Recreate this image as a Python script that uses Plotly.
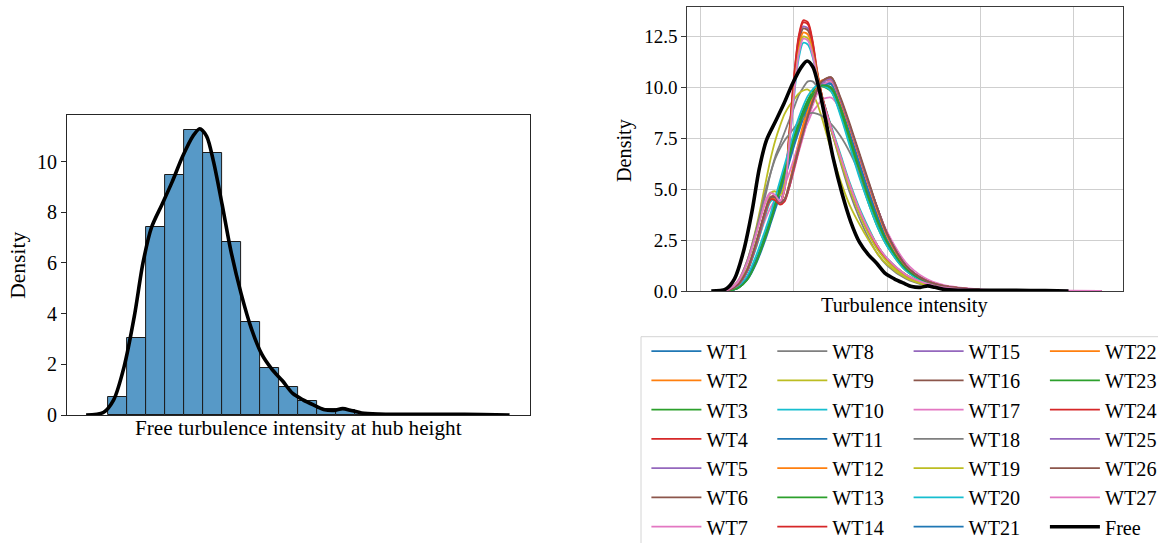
import plotly.graph_objects as go

FONT = "Liberation Serif"

# ---------------- data: left panel (histogram + KDE of free TI) ----------------
bin_edges = [0.0317, 0.0488, 0.0659, 0.0831, 0.1002, 0.1173, 0.1344, 0.1515, 0.1687,
             0.1858, 0.2029, 0.2200, 0.2371, 0.2543, 0.2714, 0.2885, 0.3056, 0.3227,
             0.3399, 0.3570, 0.3741]
bin_density = [0.73, 3.03, 7.43, 9.46, 11.25, 10.36, 6.82, 3.67, 1.87, 1.09,
               0.55, 0.22, 0.21, 0.06, 0.04, 0.03, 0.02, 0.02, 0.03, 0.02]

free_ti = [0.0114, 0.0270, 0.0363, 0.0457, 0.0550, 0.0628, 0.0705, 0.0799, 0.0892,
           0.0986, 0.1079, 0.1141, 0.1204, 0.1266, 0.1344, 0.1422, 0.1515, 0.1609,
           0.1702, 0.1795, 0.1889, 0.1982, 0.2075, 0.2169, 0.2262, 0.2355, 0.2433,
           0.2511, 0.2605, 0.2760, 0.3072, 0.3383, 0.3695, 0.3943]
free_density = [0.0, 0.1, 0.6, 1.9, 3.9, 6.0, 7.4, 8.3, 9.2, 10.2, 11.0, 11.3, 11.0,
                10.0, 8.3, 6.5, 4.8, 3.4, 2.4, 1.8, 1.35, 0.85, 0.6, 0.4, 0.22, 0.18,
                0.25, 0.18, 0.08, 0.04, 0.03, 0.03, 0.02, 0.0]

# ---------------- data: right panel (KDE per turbine) ----------------
ti_grid = [0.02, 0.03, 0.04, 0.05, 0.06, 0.07,
           0.075, 0.08, 0.085, 0.09, 0.095,
           0.10, 0.105, 0.11, 0.115, 0.12, 0.125, 0.13,
           0.14, 0.15, 0.16, 0.17, 0.18, 0.19, 0.20,
           0.22, 0.24, 0.26, 0.30, 0.36, 0.43]

wt1 = [0, 0.02, 0.15, 0.6, 1.5, 2.7, 3.4, 4.1, 4.8, 5.6, 6.4,
       7.2, 7.9, 8.5, 9.0, 9.5, 9.85, 10.1, 10.15, 9.2, 7.8, 6.3, 4.9, 3.6, 2.5,
       1.15, 0.5, 0.22, 0.05, 0.01, 0]
wt2 = [0, 0.05, 0.3, 1.0, 2.4, 4.0, 4.6, 4.6, 4.35, 4.5, 5.3,
       6.3, 7.3, 8.2, 9.0, 9.7, 10.1, 10.35, 10.3, 9.0, 7.6, 6.2, 4.9, 3.7, 2.6,
       1.15, 0.5, 0.22, 0.05, 0.01, 0]
wt3 = [0, 0.02, 0.16, 0.65, 1.6, 2.9, 3.6, 4.4, 5.2, 6.0, 6.8,
       7.6, 8.3, 8.9, 9.4, 9.8, 10.0, 10.05, 9.8, 8.7, 7.2, 5.7, 4.3, 3.1, 2.2,
       1.0, 0.45, 0.2, 0.05, 0.01, 0]
wt4 = [0, 0.05, 0.3, 1.0, 2.3, 3.9, 4.6, 4.7, 4.35, 5.2, 7.8,
       10.5, 12.5, 13.3, 13.2, 12.3, 10.8, 9.6, 8.0, 6.5, 5.1, 3.9, 2.9, 2.1, 1.5,
       0.75, 0.35, 0.15, 0.03, 0.01, 0]
wt5 = [0, 0.06, 0.34, 1.1, 2.4, 4.0, 4.6, 4.6, 4.35, 5.2, 7.6,
       10.2, 12.2, 13.0, 12.9, 12.1, 10.7, 9.5, 7.9, 6.5, 5.1, 3.9, 2.9, 2.1, 1.5,
       0.75, 0.35, 0.15, 0.03, 0.01, 0]
wt6 = [0, 0.05, 0.3, 1.0, 2.3, 3.9, 4.5, 4.55, 4.3, 5.1, 7.5,
       10.1, 12.1, 12.9, 12.8, 12.0, 10.7, 9.6, 8.0, 6.6, 5.2, 4.0, 3.0, 2.2, 1.55,
       0.8, 0.38, 0.16, 0.03, 0.01, 0]
wt7 = [0, 0.05, 0.35, 1.1, 2.3, 3.6, 4.1, 4.5, 4.8, 5.2, 5.8,
       6.5, 7.2, 7.8, 8.3, 8.8, 9.1, 9.4, 9.5, 8.9, 7.8, 6.5, 5.2, 4.0, 2.9,
       1.4, 0.65, 0.3, 0.08, 0.02, 0]
wt8 = [0, 0.08, 0.45, 1.4, 2.9, 4.8, 5.8, 6.6, 7.2, 7.8, 8.4,
       9.0, 9.6, 10.0, 10.3, 10.3, 10.0, 9.4, 7.9, 6.3, 4.8, 3.6, 2.6, 1.8, 1.25,
       0.6, 0.28, 0.12, 0.03, 0.01, 0]
wt9 = [0, 0.08, 0.5, 1.5, 3.2, 5.4, 6.5, 7.4, 8.1, 8.7, 9.1,
       9.4, 9.7, 9.85, 9.9, 9.7, 9.2, 8.5, 6.9, 5.4, 4.2, 3.3, 2.5, 1.8, 1.3,
       0.65, 0.3, 0.13, 0.03, 0.01, 0]
wt10 = [0, 0.04, 0.28, 0.95, 2.2, 3.8, 4.4, 4.5, 4.35, 5.0, 7.1,
        9.5, 11.4, 12.2, 12.1, 11.5, 10.5, 9.6, 8.1, 6.7, 5.3, 4.1, 3.1, 2.2, 1.6,
        0.8, 0.38, 0.16, 0.03, 0.01, 0]
wt11 = [0, 0.02, 0.14, 0.55, 1.4, 2.6, 3.3, 4.0, 4.7, 5.5, 6.3,
        7.1, 7.8, 8.5, 9.1, 9.6, 10.0, 10.2, 10.2, 9.2, 7.8, 6.3, 4.9, 3.6, 2.5,
        1.15, 0.5, 0.22, 0.05, 0.01, 0]
wt12 = [0, 0.05, 0.3, 1.0, 2.3, 3.9, 4.5, 4.5, 4.3, 5.0, 7.4,
        9.9, 11.9, 12.7, 12.6, 11.9, 10.7, 9.6, 8.0, 6.6, 5.2, 4.0, 3.0, 2.2, 1.55,
        0.8, 0.38, 0.16, 0.03, 0.01, 0]
wt13 = [0, 0.02, 0.15, 0.6, 1.5, 2.8, 3.5, 4.3, 5.1, 5.9, 6.7,
        7.5, 8.2, 8.8, 9.3, 9.7, 10.0, 10.1, 9.9, 8.9, 7.4, 5.9, 4.5, 3.3, 2.3,
        1.05, 0.47, 0.2, 0.05, 0.01, 0]
wt14 = [0, 0.05, 0.32, 1.05, 2.35, 3.95, 4.55, 4.6, 4.3, 5.1, 7.7,
        10.4, 12.4, 13.2, 13.1, 12.2, 10.7, 9.6, 8.0, 6.5, 5.1, 3.9, 2.9, 2.1, 1.5,
        0.75, 0.35, 0.15, 0.03, 0.01, 0]
wt15 = [0, 0.05, 0.3, 1.0, 2.35, 3.95, 4.55, 4.55, 4.3, 4.45, 5.1,
        6.0, 6.9, 7.7, 8.5, 9.2, 9.8, 10.2, 10.45, 9.4, 8.1, 6.7, 5.3, 4.0, 2.8,
        1.25, 0.55, 0.25, 0.06, 0.01, 0]
wt16 = [0, 0.05, 0.3, 1.0, 2.4, 4.0, 4.6, 4.6, 4.35, 4.5, 5.2,
        6.1, 7.0, 7.8, 8.6, 9.3, 9.9, 10.3, 10.5, 9.4, 8.1, 6.7, 5.3, 4.0, 2.8,
        1.25, 0.55, 0.25, 0.06, 0.01, 0]
wt17 = [0, 0.08, 0.5, 1.5, 3.0, 4.5, 4.85, 4.7, 4.4, 4.5, 5.1,
        5.9, 6.8, 7.6, 8.4, 9.1, 9.7, 10.1, 10.3, 9.3, 8.0, 6.6, 5.2, 3.9, 2.7,
        1.2, 0.55, 0.25, 0.06, 0.01, 0]
wt18 = [0, 0.08, 0.45, 1.5, 3.1, 5.0, 5.8, 6.5, 7.0, 7.4, 7.7,
        8.0, 8.3, 8.5, 8.7, 8.75, 8.7, 8.6, 8.2, 7.6, 6.8, 5.8, 4.6, 3.4, 2.4,
        1.1, 0.5, 0.2, 0.04, 0.01, 0]
wt19 = [0, 0.06, 0.35, 1.1, 2.5, 4.1, 4.8, 4.9, 4.7, 5.3, 7.4,
        9.8, 11.7, 12.5, 12.4, 11.7, 10.6, 9.5, 7.9, 6.4, 5.0, 3.8, 2.8, 2.0, 1.45,
        0.7, 0.33, 0.14, 0.03, 0.01, 0]
wt20 = [0, 0.03, 0.2, 0.75, 1.8, 3.1, 3.8, 4.6, 5.4, 6.2, 7.0,
        7.8, 8.5, 9.1, 9.6, 9.9, 10.1, 10.1, 9.8, 8.6, 7.1, 5.6, 4.3, 3.1, 2.2,
        1.0, 0.45, 0.2, 0.05, 0.01, 0]
wt21 = [0, 0.02, 0.15, 0.6, 1.5, 2.7, 3.4, 4.2, 4.9, 5.7, 6.5,
        7.3, 8.0, 8.7, 9.2, 9.6, 9.9, 10.1, 10.0, 9.0, 7.6, 6.1, 4.7, 3.5, 2.4,
        1.1, 0.5, 0.22, 0.05, 0.01, 0]
wt22 = [0, 0.05, 0.3, 1.0, 2.4, 4.0, 4.55, 4.5, 4.3, 4.5, 5.2,
        6.2, 7.1, 8.0, 8.8, 9.5, 10.0, 10.3, 10.4, 9.3, 8.0, 6.6, 5.2, 3.9, 2.7,
        1.2, 0.55, 0.25, 0.06, 0.01, 0]
wt23 = [0, 0.02, 0.14, 0.55, 1.45, 2.7, 3.4, 4.2, 5.0, 5.8, 6.6,
        7.4, 8.1, 8.7, 9.2, 9.6, 9.9, 10.1, 10.0, 9.0, 7.5, 6.0, 4.6, 3.4, 2.4,
        1.1, 0.5, 0.22, 0.05, 0.01, 0]
wt24 = [0, 0.05, 0.3, 1.0, 2.4, 4.0, 4.5, 4.45, 4.25, 4.4, 5.1,
        6.0, 6.9, 7.8, 8.6, 9.3, 9.9, 10.3, 10.45, 9.4, 8.1, 6.7, 5.3, 4.0, 2.8,
        1.25, 0.55, 0.25, 0.06, 0.01, 0]
wt25 = [0, 0.05, 0.3, 1.0, 2.4, 4.0, 4.6, 4.6, 4.35, 4.5, 5.2,
        6.1, 7.0, 7.8, 8.6, 9.3, 9.9, 10.25, 10.4, 9.4, 8.1, 6.7, 5.3, 4.0, 2.8,
        1.25, 0.55, 0.25, 0.06, 0.01, 0]
wt26 = [0, 0.05, 0.32, 1.05, 2.45, 4.05, 4.6, 4.6, 4.35, 4.5, 5.2,
        6.1, 7.0, 7.8, 8.6, 9.3, 9.9, 10.3, 10.5, 9.5, 8.2, 6.8, 5.4, 4.0, 2.8,
        1.25, 0.55, 0.25, 0.06, 0.01, 0]
wt27 = [0, 0.08, 0.45, 1.4, 2.9, 4.4, 4.8, 4.7, 4.4, 5.0, 7.2,
        9.6, 11.6, 12.4, 12.3, 11.6, 10.5, 9.5, 8.0, 6.6, 5.2, 4.0, 3.0, 2.2, 1.6,
        0.8, 0.4, 0.18, 0.05, 0.02, 0]

wt_names = ["WT%d" % i for i in range(1, 28)]
wt_series = [wt1, wt2, wt3, wt4, wt5, wt6, wt7, wt8, wt9, wt10, wt11, wt12, wt13, wt14,
             wt15, wt16, wt17, wt18, wt19, wt20, wt21, wt22, wt23, wt24, wt25, wt26, wt27]

left_yticks = [0, 2, 4, 6, 8, 10]
right_yticks = [0, 2.5, 5, 7.5, 10, 12.5]
right_yticklabels = ["0.0", "2.5", "5.0", "7.5", "10.0", "12.5"]

# ---------------- styles ----------------
tab10 = ["#1f77b4", "#ff7f0e", "#2ca02c", "#d62728", "#9467bd",
         "#8c564b", "#e377c2", "#7f7f7f", "#bcbd22", "#17becf"]
W, H = 1158, 543


def px_x(p):
    return p / W


def px_y(p):
    return 1 - p / H


fig = go.Figure()

# left: histogram bars
centers = [(a + b) / 2 for a, b in zip(bin_edges[:-1], bin_edges[1:])]
widths = [b - a for a, b in zip(bin_edges[:-1], bin_edges[1:])]
fig.add_trace(go.Bar(x=centers, y=bin_density, width=widths,
                     marker=dict(color="#5799c7", line=dict(color="#1a1a1a", width=1)),
                     xaxis="x", yaxis="y", showlegend=False, hoverinfo="skip"))
fig.add_trace(go.Scatter(x=free_ti, y=free_density, mode="lines",
                         line=dict(color="black", width=3.6, shape="spline", smoothing=0.8),
                         xaxis="x", yaxis="y", showlegend=False))

# right: turbine KDEs
legend_ids = ["legend", "legend2", "legend3", "legend4"]
for i, (name, ys) in enumerate(zip(wt_names, wt_series)):
    assert len(ys) == len(ti_grid), name
    fig.add_trace(go.Scatter(x=ti_grid, y=ys, mode="lines", name=name,
                             line=dict(color=tab10[i % 10], width=1.8, shape="spline",
                                       smoothing=0.8),
                             xaxis="x2", yaxis="y2", legend=legend_ids[i // 7]))
fig.add_trace(go.Scatter(x=free_ti, y=free_density, mode="lines", name="Free",
                         line=dict(color="black", width=3.6, shape="spline", smoothing=0.8),
                         xaxis="x2", yaxis="y2", legend="legend4"))

spine = "#262626"
grid = "#cfcfcf"

layout = dict(
    width=W, height=H,
    margin=dict(l=0, r=0, t=0, b=0, pad=0, autoexpand=False),
    paper_bgcolor="white", plot_bgcolor="white",
    font=dict(family=FONT, color="black"),
    xaxis=dict(domain=[px_x(67.1), px_x(529.6)], range=[-0.0058, 0.4124], anchor="y",
               showline=True, linecolor=spine, linewidth=1, mirror=True,
               showgrid=False, zeroline=False, showticklabels=False, ticks=""),
    yaxis=dict(domain=[px_y(415), px_y(115)], range=[0, 11.84], anchor="x",
               tickvals=left_yticks, ticks="outside", ticklen=5, tickcolor=spine,
               tickfont=dict(size=20, family=FONT, color="black"),
               showline=True, linecolor=spine, linewidth=1, mirror=True,
               showgrid=False, zeroline=False),
    xaxis2=dict(domain=[px_x(687.2), px_x(1123)], range=[-0.0144, 0.4527], anchor="y2",
                tick0=0, dtick=0.1, showgrid=True, gridcolor=grid, gridwidth=1.2,
                showline=True, linecolor="#3a3a3a", linewidth=1, mirror=True,
                zeroline=False, showticklabels=False, ticks=""),
    yaxis2=dict(domain=[px_y(291), px_y(7.3)], range=[0, 13.94], anchor="x2",
                tickvals=right_yticks, ticktext=right_yticklabels,
                ticks="outside", ticklen=5, tickcolor="#3a3a3a",
                tickfont=dict(size=19, family=FONT, color="black"),
                showgrid=True, gridcolor=grid, gridwidth=1.2,
                showline=True, linecolor="#3a3a3a", linewidth=1, mirror=True,
                zeroline=False),
    bargap=0,
)

leg_x = [646.4, 772.3, 908.6, 1044.9]
for lid, lx in zip(legend_ids, leg_x):
    layout[lid] = dict(x=px_x(lx), y=px_y(331.5), xanchor="left", yanchor="top",
                       orientation="v", bgcolor="rgba(0,0,0,0)", borderwidth=0,
                       font=dict(family=FONT, size=20.2, color="black"),
                       itemwidth=50, tracegroupgap=0, traceorder="normal")

fig.update_layout(**layout)

# legend frame
fig.add_shape(type="rect", xref="paper", yref="paper",
              x0=px_x(641), x1=px_x(1180), y0=px_y(570), y1=px_y(336.7),
              line=dict(color="#d4d4d4", width=1), fillcolor="rgba(0,0,0,0)", layer="below")

# axis titles
ann = [
    dict(text="Free turbulence intensity at hub height", x=px_x(298), y=px_y(428),
         size=21.2, angle=0),
    dict(text="Density", x=px_x(17.2), y=px_y(265.5), size=21.5, angle=-90),
    dict(text="Density", x=px_x(625), y=px_y(150), size=20.2, angle=-90),
    dict(text="Turbulence intensity", x=px_x(904), y=px_y(305), size=20.3, angle=0),
]
for a in ann:
    fig.add_annotation(text=a["text"], x=a["x"], y=a["y"], xref="paper", yref="paper",
                       xanchor="center", yanchor="middle", showarrow=False,
                       textangle=a["angle"],
                       font=dict(family=FONT, size=a["size"], color="black"))

fig.write_html("out.html", include_plotlyjs=True,
               config={"displayModeBar": False},
               post_script="document.body.style.margin='0';document.body.style.overflow='hidden';")
